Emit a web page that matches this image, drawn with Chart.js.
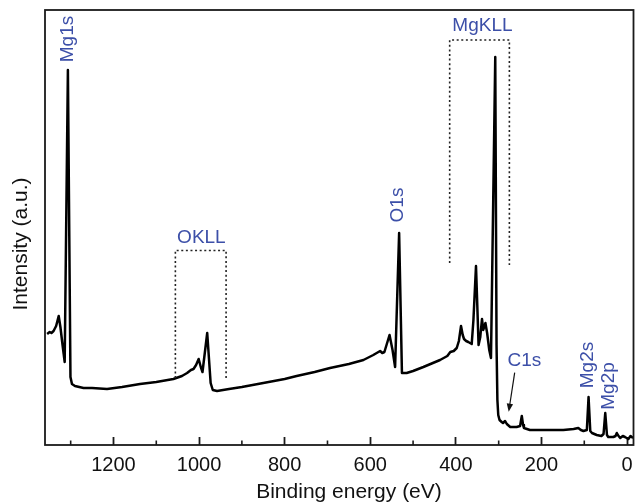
<!DOCTYPE html>
<html><head><meta charset="utf-8">
<script src="https://cdn.jsdelivr.net/npm/chart.js@4/dist/chart.umd.min.js"></script>
<style>html,body{margin:0;padding:0;background:#fff;overflow:hidden}</style>
</head><body>
<canvas id="c" width="635" height="504" style="width:635px;height:504px;display:block"></canvas>
<script>
// ---- data (binding energy in eV, intensity in arbitrary units) ----
const bindingEnergy = [1355,1349,1345,1340,1334,1328,1324,1319,1314,1306.5,1300.5,1297,1290,1270,1250,1215,1180,1138,1100,1060,1040,1028,1019,1013,1007,1001,996,992,981,973,968,958,930,900,850,800,772,730,694,650,616,593,581,577,572,567,555,548,542,532.6,526,515,500,476,437,420,413,405,398,393,388,384,381,376,371,363,359,353,350,347,343,339,336,331,327,322,318,308,305,303,301,298,293,290,285,281,273,258,250,246,243,241,227,188,149,125,114,108,102,94,90,86,82,71,60,55,51,47,44,32,27,24,20,16,10,5,-3,-8,-11,-14];
const intensity     = [111,113,112,114,119,129,118,100,83,375,68,61,59,57,57,56,58,61,63,66,69,72,75,76,80,86,78,73,112,62,55,54,56,58,62,66,69,73,77,81,85,90,93,94,92,93,110,95,78,212,72,72,74,78,85,89,93,94,97,104,119,110,106,104,103,101,125,179,140,100,108,126,115,122,112,95,87,388,100,45,30,25,23,22,24,21,18,18,19,29,20,17,15,15,15,16,17,15,14,15,48,14,12,10,9,11,32,10,8,8,9,12,9,7,9,8,6,9,8,7];
const majorTicks = [1200,1000,800,600,400,200,0];
const minorTicks = [1300,1100,900,700,500,300,100];
const peakLabels = ['Mg1s','OKLL','O1s','MgKLL','C1s','Mg2s','Mg2p'];
const xTitle = 'Binding energy (eV)';
const yTitle = 'Intensity (a.u.)';

// ---- annotation placement (data units: eV, intensity) ----
const labelPlacement = {
  'Mg1s':  {x:1306.5, y:406, rot:true},
  'OKLL':  {x:994.6,  y:207.5, rot:false},
  'O1s':   {x:536.7,  y:240, rot:true},
  'MgKLL': {x:338,    y:419.5, rot:false},
  'C1s':   {x:240,    y:84, rot:false},
  'Mg2s':  {x:91.6,   y:80, rot:true},
  'Mg2p':  {x:43.7,   y:59, rot:true}
};
const dottedBoxes = [
  {x1:1055.4, x2:936.9, top:194.5, b1:67, b2:67},
  {x1:414.5,  x2:275,   top:405,   b1:182, b2:180}
];
const arrowC1s = {from:[262.6,72.3], to:[276.6,33.3]};

const FONT = "'Liberation Sans', Arial, sans-serif";
const LABEL_COLOR = '#3c4fa8';

const annotate = {
  id:'annotate',
  afterDatasetsDraw(chart){
    const ctx = chart.ctx, xs = chart.scales.x, ys = chart.scales.y, a = chart.chartArea;
    const X = v => xs.getPixelForValue(v), Y = v => ys.getPixelForValue(v);
    ctx.save();
    // frame
    ctx.strokeStyle = '#1a1a1a'; ctx.lineWidth = 1.8;
    ctx.strokeRect(a.left, a.top, a.right - a.left, a.bottom - a.top);
    // minor ticks
    ctx.lineWidth = 1.6;
    minorTicks.forEach(t => { const px = X(t); ctx.beginPath(); ctx.moveTo(px, a.bottom); ctx.lineTo(px, a.bottom - 4.5); ctx.stroke(); });
    // dotted boxes
    ctx.setLineDash([2, 2.6]); ctx.lineWidth = 1.6; ctx.strokeStyle = '#222';
    dottedBoxes.forEach(b => {
      ctx.beginPath();
      ctx.moveTo(X(b.x1), Y(b.b1)); ctx.lineTo(X(b.x1), Y(b.top));
      ctx.lineTo(X(b.x2), Y(b.top)); ctx.lineTo(X(b.x2), Y(b.b2));
      ctx.stroke();
    });
    ctx.setLineDash([]);
    // peak labels
    ctx.fillStyle = LABEL_COLOR; ctx.font = '19px ' + FONT;
    ctx.textAlign = 'center'; ctx.textBaseline = 'middle';
    peakLabels.forEach(l => {
      const p = labelPlacement[l];
      ctx.save(); ctx.translate(X(p.x), Y(p.y));
      if (p.rot) ctx.rotate(-Math.PI/2);
      ctx.fillText(l, 0, 0); ctx.restore();
    });
    // arrow for C1s
    const fx = X(arrowC1s.from[0]), fy = Y(arrowC1s.from[1]), tx = X(arrowC1s.to[0]), ty = Y(arrowC1s.to[1]);
    ctx.strokeStyle = '#111'; ctx.fillStyle = '#111'; ctx.lineWidth = 1.2;
    const ang = Math.atan2(ty - fy, tx - fx);
    ctx.beginPath(); ctx.moveTo(fx, fy); ctx.lineTo(tx - 5*Math.cos(ang), ty - 5*Math.sin(ang)); ctx.stroke();
    ctx.beginPath(); ctx.moveTo(tx, ty);
    ctx.lineTo(tx - 8*Math.cos(ang) + 3.2*Math.sin(ang), ty - 8*Math.sin(ang) - 3.2*Math.cos(ang));
    ctx.lineTo(tx - 8*Math.cos(ang) - 3.2*Math.sin(ang), ty - 8*Math.sin(ang) + 3.2*Math.cos(ang));
    ctx.closePath(); ctx.fill();
    // axis titles
    ctx.fillStyle = '#111'; ctx.font = '21px ' + FONT; ctx.textAlign = 'center'; ctx.textBaseline = 'middle';
    ctx.fillText(xTitle, 349, 492);
    ctx.save(); ctx.translate(21, 244); ctx.rotate(-Math.PI/2); ctx.fillText(yTitle, 0, 0); ctx.restore();
    ctx.restore();
  }
};

new Chart(document.getElementById('c'), {
  type: 'line',
  data: {
    datasets: [{
      data: bindingEnergy.map((e, i) => ({x: e, y: intensity[i]})),
      borderColor: '#000', borderWidth: 2.5, pointRadius: 0, tension: 0,
      borderJoinStyle: 'round', fill: false
    }]
  },
  options: {
    responsive: false, animation: false, devicePixelRatio: 1,
    layout: {padding: {left: 45, top: 10, right: 1.5, bottom: 0}},
    plugins: {legend: {display: false}, tooltip: {enabled: false}},
    scales: {
      x: {
        type: 'linear', reverse: true, min: -15, max: 1360,
        afterBuildTicks: s => { s.ticks = majorTicks.map(v => ({value: v})); },
        afterFit: s => { s.height = 59; s.paddingLeft = 0; s.paddingRight = 0; },
        grid: {drawOnChartArea: false, drawTicks: true, tickLength: -8, tickWidth: 1.8, tickColor: '#1a1a1a'},
        border: {display: false},
        ticks: {padding: 16, color: '#111', font: {family: FONT, size: 20}, maxRotation: 0, autoSkip: false,
                callback: v => String(v)}
      },
      y: {display: false, min: 0, max: 435}
    }
  },
  plugins: [annotate]
});
</script>
</body></html>
